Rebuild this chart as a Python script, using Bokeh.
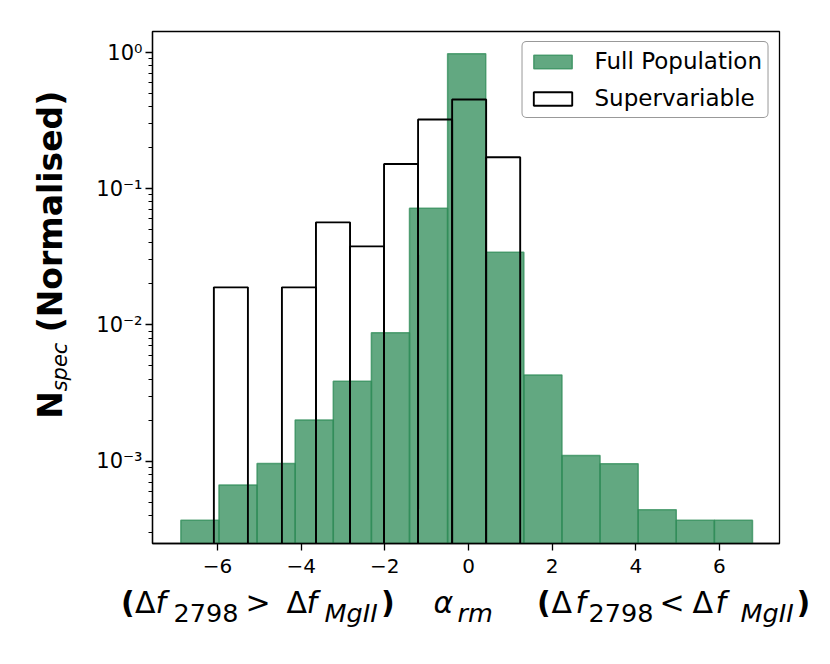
import numpy as np
from bokeh.plotting import figure
from bokeh.layouts import column, row
from bokeh.models import Range1d, FixedTicker, CustomJSTickFormatter
from bokeh.core.properties import value
from bokeh.embed import file_html
from bokeh.resources import INLINE

# ---- data ----
full_edges = [-6.876, -5.965, -5.054, -4.143, -3.232, -2.321, -1.410, -0.499,
              0.412, 1.323, 2.234, 3.145, 4.056, 4.967, 5.878, 6.789]
full_density = [3.68e-4, 6.67e-4, 9.6e-4, 2.0e-3, 3.85e-3, 8.77e-3, 0.0718, 0.978,
                0.0341, 4.29e-3, 1.10e-3, 9.55e-4, 4.39e-4, 3.68e-4, 3.68e-4]
super_edges = [-6.087, -5.273, -4.460, -3.646, -2.832, -2.019, -1.205, -0.391,
               0.422, 1.236]
super_density = [0.01886, 0.0, 0.01886, 0.0566, 0.0377, 0.152, 0.322, 0.4516, 0.170]
x_ticks = [-6, -4, -2, 0, 2, 4, 6]
y_ticks = [1e-3, 1e-2, 1e-1, 1.0]
labels = ["Full Population", "Supervariable"]

X0, X1 = -7.554, 7.435
Y0, Y1 = 2.48e-4, 1.427
BASE = 1e-6

# page layout
W, H = 822, 656
YW = 80            # width of y-label strip
PH = 584           # height of main plot
XH = H - PH        # height of x-label strip
FT, FBOT = 31, 543 # frame top / bottom on the page
MID = 0.35         # baseline sits MID*size below a "middle" anchor

p = figure(width=W - YW, height=PH, y_axis_type="log",
           x_range=Range1d(X0, X1), y_range=Range1d(Y0, Y1),
           output_backend="svg", toolbar_location=None,
           min_border_left=152 - YW, min_border_right=43,
           min_border_top=FT, min_border_bottom=PH - FBOT,
           background_fill_color="white", border_fill_color="white")

fl = full_edges[:-1]
fr = full_edges[1:]
p.quad(left=fl, right=fr, top=full_density, bottom=[BASE] * len(full_density),
       fill_color="#2E8B57", fill_alpha=0.75, line_color="#2E8B57",
       line_alpha=0.75, line_width=1.5, legend_label=labels[0])

sl = [a for a, d in zip(super_edges[:-1], super_density) if d > 0]
sr = [b for b, d in zip(super_edges[1:], super_density) if d > 0]
st = [d for d in super_density if d > 0]
p.quad(left=sl, right=sr, top=st, bottom=[BASE] * len(st),
       fill_color=None, line_color="black", line_width=1.9,
       legend_label=labels[1])

p.xgrid.visible = False
p.ygrid.visible = False
p.outline_line_color = "black"
p.outline_line_width = 1.3
p.outline_line_alpha = 1.0

for ax in (p.xaxis, p.yaxis):
    ax.axis_line_width = 1.3
    ax.axis_line_color = "black"
    ax.major_tick_line_width = 1.3
    ax.minor_tick_line_width = 1.0
    ax.major_tick_in = 0
    ax.major_tick_out = 7
    ax.minor_tick_in = 0
    ax.minor_tick_out = 4
    ax.major_label_text_font = "DejaVu Sans"
    ax.major_label_text_font_size = "20px"
    ax.major_label_text_color = "black"

p.xaxis.ticker = FixedTicker(ticks=x_ticks, minor_ticks=[])
p.xaxis.formatter = CustomJSTickFormatter(
    code="return tick < 0 ? '\u2212' + String(-tick) : String(tick);")
p.xaxis.major_label_standoff = 8

minor = [k * 10.0 ** e for e in range(-4, 1) for k in range(2, 10)]
p.yaxis.ticker = FixedTicker(ticks=y_ticks, minor_ticks=minor)
p.yaxis.formatter = CustomJSTickFormatter(code="""
const e = Math.round(Math.log10(tick));
const m = {'0':'\u2070','1':'\u00b9','2':'\u00b2','3':'\u00b3','-':'\u207b'};
return '10' + String(e).split('').map(c => m[c]).join('');
""")
p.yaxis.major_label_standoff = 3
p.yaxis.major_label_text_font_size = "21px"

lg = p.legend[0]
lg.location = "top_right"
lg.margin = 10
lg.padding = 6
lg.spacing = 11
lg.glyph_width = 48
lg.glyph_height = 17
lg.label_height = 26
lg.label_standoff = 18
lg.label_text_font = "DejaVu Sans"
lg.label_text_font_size = "23px"
lg.label_text_color = "black"
lg.border_line_color = "#333333"
lg.border_line_width = 1.3
lg.background_fill_alpha = 0.8
if "border_radius" in lg.properties():
    lg.border_radius = 5


def strip(w, h, top=0, bottom=0):
    f = figure(width=w, height=h, x_range=Range1d(0, w),
               y_range=Range1d(0, h - top - bottom),
               output_backend="svg", toolbar_location=None,
               x_axis_location=None, y_axis_location=None,
               min_border=0, min_border_left=0, min_border_right=0,
               min_border_top=top, min_border_bottom=bottom,
               background_fill_color="white", border_fill_color="white")
    f.outline_line_color = None
    f.grid.visible = False
    return f


# ---- x label strip (page y from PH to H) ----
xs = strip(W, XH)
MB, SB = 612, 621
xparts = [
    ("(", 120.5, MB, 30, "bold"), ("\u0394", 134.5, MB, 30, "normal"),
    ("f", 155, MB, 30, "italic"), ("2798", 173, SB, 25.5, "normal"),
    (">", 245, MB, 30, "normal"), ("\u0394", 286, MB, 30, "normal"),
    ("f", 306, MB, 30, "italic"), ("MgII", 324, SB, 25.5, "italic"),
    (")", 380.5, MB, 30, "bold"),
    ("\u03b1", 433, MB, 30, "italic"), ("rm", 457, SB, 25.5, "italic"),
    ("(", 536.5, MB, 30, "bold"), ("\u0394", 551, MB, 30, "normal"),
    ("f", 575, MB, 30, "italic"), ("2798", 588, SB, 25.5, "normal"),
    ("<", 659, MB, 30, "normal"), ("\u0394", 692, MB, 30, "normal"),
    ("f", 715, MB, 30, "italic"), ("MgII", 740, SB, 25.5, "italic"),
    (")", 796, MB, 30, "bold"),
]
for t, px, py, s, sty in xparts:
    xs.text(x=[px], y=[H - (py - MID * s)], text=[t],
            text_font=value("DejaVu Sans"),
            text_font_size=f"{s}px", text_font_style=sty, text_color="black",
            text_align="left", text_baseline="middle")

# ---- y label strip: frame spans page y FT..FBOT, rotated centred pieces ----
ys = strip(YW, PH, top=FT, bottom=PH - FBOT)
A = np.pi / 2
# (text, baseline page-x, page-y of bottom end, page-y of top end, size, style)
yparts = [
    ("N", 62, 418, 391, 33, "bold"),
    ("spec", 67, 391, 342, 21, "italic"),
    ("(Normalised)", 62, 332, 90, 33, "bold"),
]
for t, bx, y_lo, y_hi, s, sty in yparts:
    ys.text(x=[bx - MID * s], y=[FBOT - 0.5 * (y_lo + y_hi)], text=[t], angle=A,
            text_font=value("DejaVu Sans"),
            text_font_size=f"{s}px", text_font_style=sty, text_color="black",
            text_align="center", text_baseline="middle")

layout = column(row(ys, p, spacing=0), xs, spacing=0)
open("out.html", "w").write(file_html(layout, INLINE))
